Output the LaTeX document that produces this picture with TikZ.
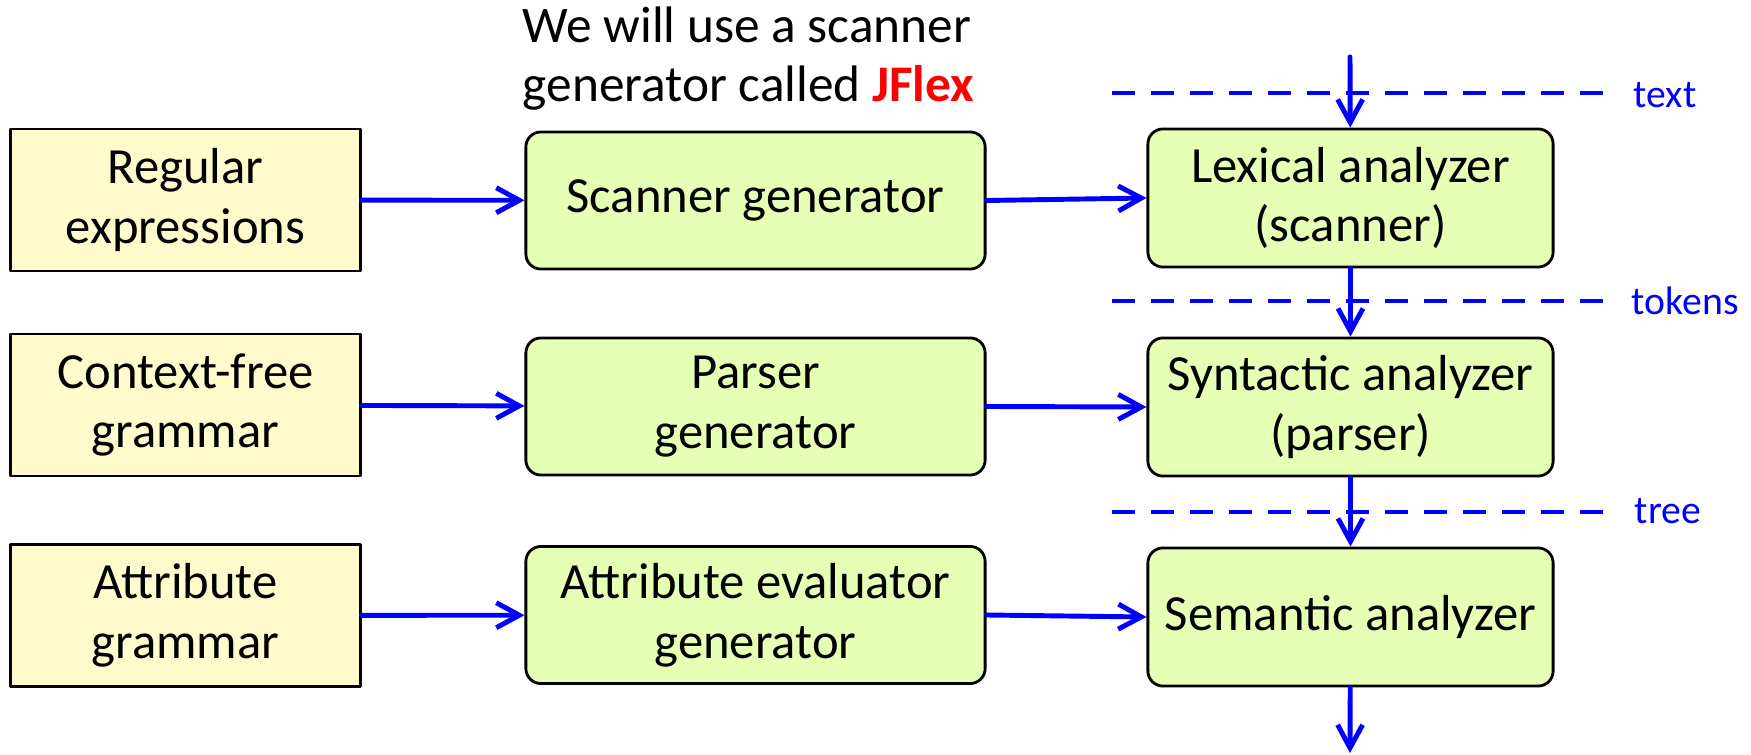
\documentclass[tikz,border=0pt]{standalone}
\usepackage{fontspec}
\setmainfont{Carlito}
\usetikzlibrary{arrows.meta}
\definecolor{specfill}{RGB}{255,251,204}
\definecolor{genfill}{RGB}{229,255,180}

\begin{document}
\begin{tikzpicture}[x=0.01cm, y=-0.01cm, line cap = round, line join = round, >={Straight Barb[length=2.3mm,width=2.5mm]}]
\tikzstyle{spec}=[draw=black, line width=0.8pt, fill=specfill, minimum width=3.49cm, minimum height=1.42cm, align=center, inner sep=0pt, font=\fontsize{14.4}{17}\selectfont]
\tikzstyle{gen}=[spec, fill=genfill, rounded corners=0.15cm, minimum width=4.59cm, minimum height=1.37cm]
\tikzstyle{phase}=[gen, minimum width=4.05cm, minimum height=1.38cm]
\tikzstyle{flow}=[line width=1.4pt, color=blue, ->]
\tikzstyle{level}=[line width=1.4pt, color=blue, line cap=butt, dash pattern=on 6.4pt off 4.7pt]
\tikzstyle{levellabel}=[anchor=west, inner sep=0pt, text=blue, font=\fontsize{11.3}{13}\selectfont]
\useasboundingbox (0,0) rectangle (1751,755);

\node[anchor=base west, align=left, inner sep=0pt, font=\fontsize{14.6}{17}\selectfont] (note) at (522,102)
  {We will use a scanner\\generator called \textcolor{red}{\textbf{JFlex}}};

\node[spec] (regex) at (185.5,200)   {Regular\\expressions};
\node[spec] (cfg)   at (185.5,405)   {Context-free\\grammar};
\node[spec] (ag)    at (185.5,615.5) {Attribute\\grammar};

\node[gen] (scangen)  at (755.5,200.5) {Scanner generator};
\node[gen] (parsegen) at (755.5,406.5) {Parser\\generator};
\node[gen] (evalgen)  at (755.5,615)   {Attribute evaluator\\generator};

\node[phase] (lexer)  at (1350.5,198) {Lexical analyzer\\(scanner)};
\node[phase] (parser) at (1350.5,407) {Syntactic analyzer\\(parser)};
\node[phase] (sema)   at (1350.5,617) {Semantic analyzer};

\coordinate (in)  at (1350,57);
\coordinate (out) at (1350,753);

\draw[level] (1112,93)  coordinate (t1) -- (1609,93)  coordinate (t2);
\draw[level] (1112,301) coordinate (k1) -- (1609,301) coordinate (k2);
\draw[level] (1112,512) coordinate (e1) -- (1609,512) coordinate (e2);
\node[levellabel] (textlab)   at (1633,95)  {text};
\node[levellabel] (tokenslab) at (1631,301) {tokens};
\node[levellabel] (treelab)   at (1634,511) {tree};

\draw[flow] (regex) -- (scangen);
\draw[flow] (cfg) -- (parsegen);
\draw[flow] (ag) -- (evalgen);
\draw[flow] (scangen.east) -- (lexer.west);
\draw[flow] (parsegen.east) -- (parser.west);
\draw[flow] (evalgen.east) -- (sema.west);

\draw[flow] (in) -- (lexer);
\draw[flow] (lexer) -- (parser);
\draw[flow] (parser) -- (sema);
\draw[flow] (sema) -- (out);
\end{tikzpicture}
\end{document}
